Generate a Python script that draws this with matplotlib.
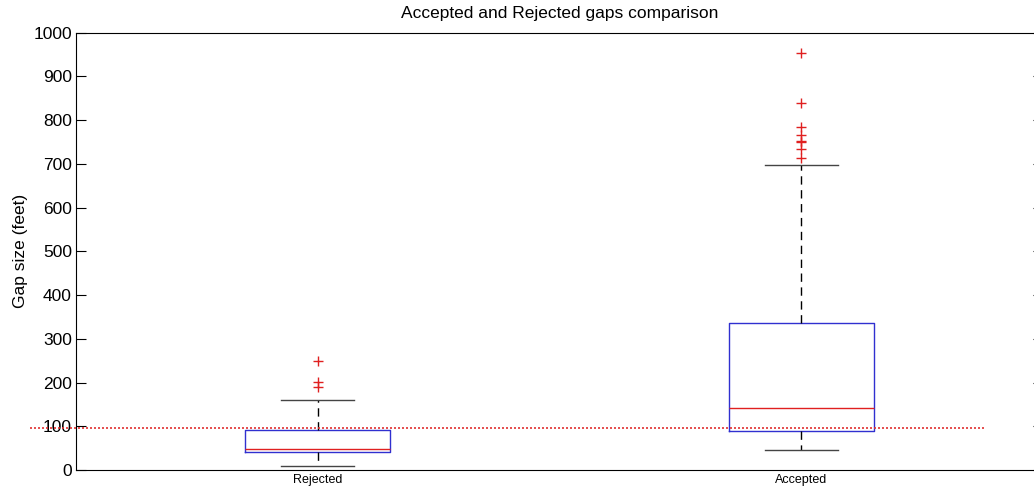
import matplotlib
matplotlib.use("Agg")
import matplotlib.pyplot as plt

plt.rcParams['font.family'] = ['Liberation Sans', 'DejaVu Sans']

categories = ["Rejected", "Accepted"]
q1 = [41, 89]
median = [49, 141]
q3 = [91, 336]
whislo = [10, 45]
whishi = [161, 698]
fliers = [
    [190, 201, 250],
    [714, 734, 749, 753, 766, 784, 838, 953],
]
threshold = 96
yticks = list(range(0, 1001, 100))

fig = plt.figure(figsize=(10.34, 4.86), dpi=100)
ax = fig.add_axes([76/1034, 1 - 470/486, (1043 - 76)/1034, (470 - 32.6)/486])

stats = []
for i, name in enumerate(categories):
    stats.append(dict(label=name, q1=q1[i], med=median[i], q3=q3[i],
                      whislo=whislo[i], whishi=whishi[i], fliers=fliers[i]))

ax.bxp(stats, positions=[1, 2], widths=0.3, showfliers=True,
       boxprops=dict(color='#3030d0', linewidth=1.0),
       medianprops=dict(color='#e02020', linewidth=1.0),
       whiskerprops=dict(color='black', linewidth=1.0, linestyle=(0, (6, 4))),
       capprops=dict(color='#444444', linewidth=1.0),
       capwidths=0.15,
       flierprops=dict(marker='+', markeredgecolor='#e02020', markersize=6.5,
                       linestyle='none', markeredgewidth=1.0))

ax.plot([0.405, 2.38], [threshold, threshold], linestyle=(0, (1.2, 1.2)),
        color='#e03030', linewidth=1.2, clip_on=False)

ax.set_xlim(0.5, 2.5)
ax.set_ylim(0, 1000)
ax.set_yticks(yticks)
ax.set_yticklabels([str(t) for t in yticks], fontsize=12.5)
ax.set_xticks([1, 2])
ax.set_xticklabels(categories, fontsize=9)
ax.tick_params(axis='x', length=0, pad=3)
ax.tick_params(axis='y', direction='in', length=7, right=True, left=True, pad=3)
ax.set_ylabel("Gap size (feet)", fontsize=12.5, labelpad=3.5)
ax.set_title("Accepted and Rejected gaps comparison", fontsize=12.5, pad=10.5)

fig.savefig("out.png", dpi=100)
